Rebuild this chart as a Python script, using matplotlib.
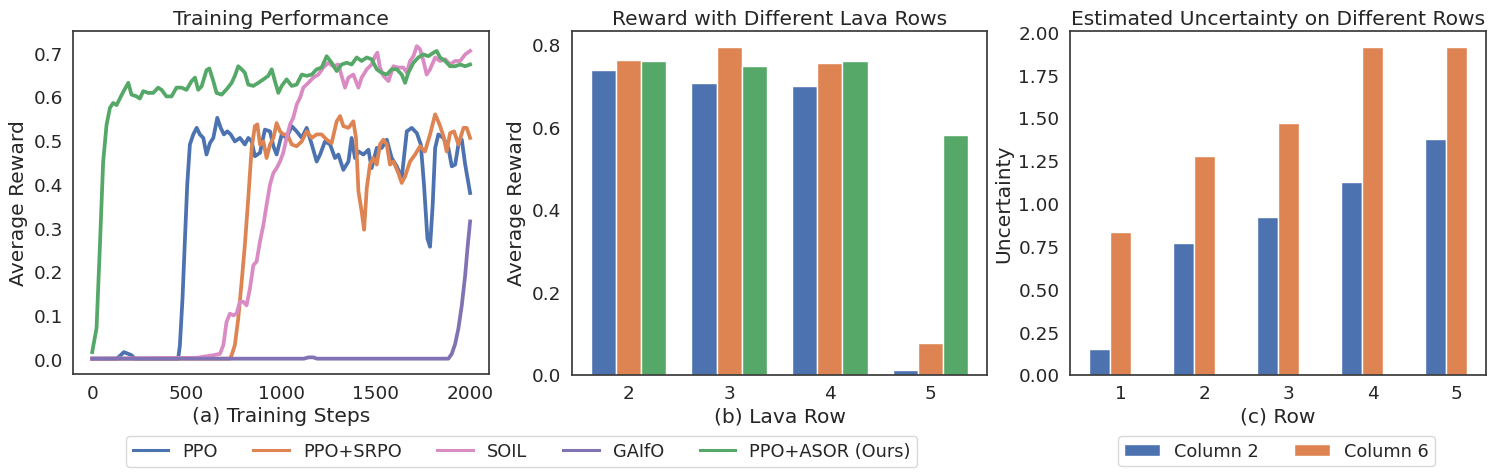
import matplotlib
matplotlib.use("Agg")
import matplotlib.pyplot as plt
from matplotlib.lines import Line2D
import numpy as np

# ---------------- data ----------------
ppo_steps = [0, 129, 146, 168, 191, 208, 226, 455, 464, 478, 491, 503, 517, 535, 553, 570, 588, 605, 623, 641,
             662, 680, 697, 715, 733, 755, 782, 808, 826, 844, 861, 888, 914, 941, 959, 976, 1003, 1029, 1056,
             1082, 1109, 1135, 1162, 1188, 1206, 1232, 1259, 1285, 1303, 1329, 1356, 1373, 1391, 1409, 1435,
             1462, 1479, 1506, 1532, 1559, 1585, 1612, 1638, 1665, 1691, 1718, 1739, 1756, 1774, 1788, 1802,
             1815, 1832, 1859, 1885, 1903, 1921, 1938, 1956, 1974, 2000]
ppo_vals = [0.0, 0.0, 0.006, 0.015, 0.011, 0.008, 0.0, 0.0, 0.03, 0.138, 0.275, 0.398, 0.49, 0.513, 0.528, 0.513,
            0.505, 0.467, 0.493, 0.505, 0.551, 0.528, 0.513, 0.52, 0.513, 0.497, 0.505, 0.49, 0.505, 0.497, 0.463,
            0.471, 0.524, 0.52, 0.486, 0.467, 0.513, 0.505, 0.532, 0.52, 0.505, 0.528, 0.49, 0.451, 0.467, 0.497,
            0.49, 0.459, 0.467, 0.432, 0.451, 0.505, 0.459, 0.474, 0.467, 0.478, 0.436, 0.482, 0.482, 0.501,
            0.459, 0.44, 0.413, 0.52, 0.528, 0.516, 0.49, 0.398, 0.275, 0.256, 0.352, 0.482, 0.513, 0.505, 0.482,
            0.44, 0.444, 0.49, 0.501, 0.444, 0.379]

srpo_steps = [0, 729, 738, 755, 773, 791, 808, 826, 844, 861, 874, 888, 906, 923, 941, 959, 976, 994, 1011, 1033,
              1056, 1082, 1109, 1135, 1162, 1188, 1214, 1241, 1267, 1294, 1312, 1329, 1356, 1382, 1396, 1409,
              1426, 1439, 1453, 1470, 1488, 1506, 1523, 1541, 1559, 1576, 1594, 1620, 1638, 1656, 1682, 1709,
              1735, 1761, 1788, 1815, 1838, 1859, 1876, 1894, 1915, 1938, 1965, 1982, 2000]
srpo_vals = [0.0, 0.0, 0.008, 0.031, 0.092, 0.176, 0.26, 0.367, 0.482, 0.532, 0.536, 0.49, 0.497, 0.459, 0.49,
             0.505, 0.539, 0.52, 0.513, 0.513, 0.49, 0.486, 0.497, 0.52, 0.505, 0.513, 0.513, 0.501, 0.493, 0.543,
             0.555, 0.532, 0.528, 0.543, 0.505, 0.383, 0.337, 0.295, 0.39, 0.444, 0.459, 0.444, 0.49, 0.501, 0.49,
             0.444, 0.451, 0.425, 0.402, 0.417, 0.451, 0.467, 0.486, 0.474, 0.513, 0.559, 0.536, 0.509, 0.474,
             0.516, 0.52, 0.49, 0.528, 0.528, 0.505]

soil_steps = [0, 553, 641, 676, 694, 711, 729, 747, 764, 782, 800, 817, 835, 853, 870, 888, 906, 923, 941, 959,
              976, 994, 1011, 1029, 1047, 1064, 1082, 1100, 1117, 1144, 1170, 1197, 1223, 1250, 1276, 1303, 1320,
              1338, 1356, 1382, 1409, 1426, 1453, 1479, 1497, 1509, 1523, 1541, 1568, 1594, 1620, 1647, 1665,
              1682, 1700, 1718, 1735, 1753, 1770, 1788, 1815, 1841, 1868, 1894, 1921, 1947, 1974, 2000]
soil_vals = [0.0, 0.002, 0.008, 0.011, 0.031, 0.084, 0.103, 0.099, 0.103, 0.13, 0.13, 0.122, 0.161, 0.214, 0.222,
             0.268, 0.306, 0.352, 0.398, 0.425, 0.436, 0.451, 0.471, 0.505, 0.536, 0.551, 0.581, 0.597, 0.62,
             0.631, 0.643, 0.65, 0.666, 0.677, 0.669, 0.673, 0.647, 0.62, 0.643, 0.65, 0.62, 0.643, 0.662, 0.673,
             0.692, 0.70, 0.666, 0.647, 0.635, 0.669, 0.666, 0.666, 0.654, 0.681, 0.692, 0.715, 0.708, 0.681,
             0.65, 0.662, 0.689, 0.681, 0.685, 0.673, 0.681, 0.681, 0.696, 0.704]

gaifo_steps = [0, 1120, 1145, 1170, 1190, 1885, 1903, 1921, 1938, 1956, 1974, 1986, 2000]
gaifo_vals = [0.0, 0.0, 0.003, 0.003, 0.0, 0.0, 0.011, 0.034, 0.069, 0.122, 0.191, 0.252, 0.314]

asor_steps = [0, 23, 41, 58, 76, 94, 111, 129, 146, 164, 191, 208, 235, 252, 270, 296, 323, 349, 367, 393, 420,
              446, 473, 499, 526, 544, 561, 579, 605, 620, 641, 658, 685, 711, 738, 755, 773, 791, 808, 826, 853,
              879, 906, 932, 950, 967, 985, 1003, 1029, 1056, 1082, 1109, 1135, 1162, 1188, 1214, 1241, 1267,
              1294, 1320, 1347, 1373, 1400, 1426, 1453, 1479, 1506, 1532, 1559, 1585, 1612, 1638, 1656, 1673,
              1700, 1726, 1753, 1779, 1806, 1823, 1841, 1868, 1894, 1921, 1947, 1974, 2000]
asor_vals = [0.015, 0.07, 0.26, 0.45, 0.535, 0.574, 0.585, 0.58, 0.595, 0.61, 0.631, 0.604, 0.60, 0.595, 0.612,
             0.608, 0.608, 0.62, 0.615, 0.60, 0.60, 0.62, 0.62, 0.615, 0.635, 0.643, 0.615, 0.623, 0.66, 0.664,
             0.635, 0.608, 0.604, 0.616, 0.631, 0.647, 0.669, 0.662, 0.654, 0.627, 0.624, 0.631, 0.639, 0.647,
             0.662, 0.635, 0.608, 0.624, 0.639, 0.624, 0.627, 0.65, 0.647, 0.65, 0.662, 0.666, 0.692, 0.677,
             0.658, 0.673, 0.677, 0.673, 0.689, 0.681, 0.689, 0.685, 0.662, 0.654, 0.65, 0.662, 0.662, 0.65,
             0.631, 0.654, 0.677, 0.689, 0.696, 0.692, 0.70, 0.704, 0.689, 0.681, 0.669, 0.669, 0.673, 0.669,
             0.673]

method_names = ["PPO", "PPO+SRPO", "SOIL", "GAIfO", "PPO+ASOR (Ours)"]

lava_rows = [2, 3, 4, 5]
lava_ppo = [0.737, 0.706, 0.700, 0.011]
lava_srpo = [0.763, 0.794, 0.756, 0.077]
lava_asor = [0.760, 0.748, 0.760, 0.581]

unc_rows = [1, 2, 3, 4, 5]
unc_col2 = [0.148, 0.770, 0.920, 1.124, 1.375]
unc_col6 = [0.833, 1.278, 1.469, 1.912, 1.912]

# ---------------- style ----------------
C_BLUE = "#4C72B0"
C_ORANGE = "#DD8452"
C_GREEN = "#55A868"
C_PURPLE = "#8172B3"
C_PINK = "#DA8BC3"
TXT = "#262626"
FS_TICK = 13.3
FS_LAB = 14.6
FS_LEG = 12.8

plt.rcParams.update({
    "font.family": "DejaVu Sans",
    "font.size": FS_TICK,
    "xtick.labelsize": FS_TICK,
    "ytick.labelsize": FS_TICK,
    "text.color": TXT,
    "axes.labelcolor": TXT,
    "xtick.color": TXT,
    "ytick.color": TXT,
    "axes.edgecolor": "#3a3a3a",
    "axes.linewidth": 1.25,
    "xtick.major.size": 0,
    "ytick.major.size": 0,
    "xtick.major.pad": 7,
    "ytick.major.pad": 7.5,
})

fig = plt.figure(figsize=(14.99, 4.77), dpi=100)
W, H = 1499, 477


def add_ax(left, right, top, bottom):
    return fig.add_axes([left / W, 1 - bottom / H, (right - left) / W, (bottom - top) / H])


ax1 = add_ax(73.3, 489.0, 31.5, 375.3)
ax2 = add_ax(571.7, 987.3, 31.5, 375.5)
ax3 = add_ax(1070.0, 1486.0, 31.5, 375.5)

# ---------------- (a) ----------------
lw = 2.7
ax1.plot(ppo_steps, ppo_vals, color=C_BLUE, lw=lw)
ax1.plot(srpo_steps, srpo_vals, color=C_ORANGE, lw=lw)
ax1.plot(soil_steps, soil_vals, color=C_PINK, lw=lw)
ax1.plot(gaifo_steps, gaifo_vals, color=C_PURPLE, lw=lw)
ax1.plot(asor_steps, asor_vals, color=C_GREEN, lw=lw)
ax1.set_xticks([0, 500, 1000, 1500, 2000])
ax1.set_yticks([0.0, 0.1, 0.2, 0.3, 0.4, 0.5, 0.6, 0.7])
ax1.set_xlabel("(a) Training Steps", fontsize=FS_LAB, labelpad=3)
ax1.set_ylabel("Average Reward", fontsize=FS_LAB)
ax1.set_title("Training Performance", fontsize=FS_LAB, pad=4.5)

# ---------------- (b) ----------------
bw = 0.25
xb = np.array(lava_rows, dtype=float)
ax2.bar(xb - bw, lava_ppo, width=bw, color=C_BLUE, edgecolor="white", linewidth=1)
ax2.bar(xb, lava_srpo, width=bw, color=C_ORANGE, edgecolor="white", linewidth=1)
ax2.bar(xb + bw, lava_asor, width=bw, color=C_GREEN, edgecolor="white", linewidth=1)
ax2.set_xticks(lava_rows)
ax2.set_yticks([0.0, 0.2, 0.4, 0.6, 0.8])
ax2.set_xlabel("(b) Lava Row", fontsize=FS_LAB, labelpad=3)
ax2.set_ylabel("Average Reward", fontsize=FS_LAB)
ax2.set_title("Reward with Different Lava Rows", fontsize=FS_LAB, pad=4.5)

# ---------------- (c) ----------------
xc = np.array(unc_rows, dtype=float)
b1 = ax3.bar(xc - bw, unc_col2, width=bw, color=C_BLUE, edgecolor="white", linewidth=1, label="Column 2")
b2 = ax3.bar(xc, unc_col6, width=bw, color=C_ORANGE, edgecolor="white", linewidth=1, label="Column 6")
ax3.set_xticks(unc_rows)
ax3.set_yticks([0.0, 0.25, 0.5, 0.75, 1.0, 1.25, 1.5, 1.75, 2.0])
ax3.set_yticklabels(["%.2f" % v for v in [0.0, 0.25, 0.5, 0.75, 1.0, 1.25, 1.5, 1.75, 2.0]])
ax3.set_xlabel("(c) Row", fontsize=FS_LAB, labelpad=3)
ax3.set_ylabel("Uncertainty", fontsize=FS_LAB)
ax3.set_title("Estimated Uncertainty on Different Rows", fontsize=FS_LAB, pad=4.5)

# ---------------- legends ----------------
colors = [C_BLUE, C_ORANGE, C_PINK, C_PURPLE, C_GREEN]
handles = [Line2D([0], [0], color=c, lw=2.2) for c in colors]
fig.legend(handles, method_names, loc="center", bbox_to_anchor=(521.7 / W, 1 - 452.5 / H),
           ncol=5, fontsize=FS_LEG, frameon=True, columnspacing=2.0, handlelength=2.0,
           borderpad=0.35, edgecolor="#d0d0d0", fancybox=True)

fig.legend([b1, b2], ["Column 2", "Column 6"], loc="center", bbox_to_anchor=(1276.5 / W, 1 - 452.2 / H),
           ncol=2, fontsize=FS_LEG, frameon=True, columnspacing=2.0, handlelength=2.0,
           borderpad=0.35, edgecolor="#d0d0d0", fancybox=True)

fig.savefig("out.png", dpi=100)
